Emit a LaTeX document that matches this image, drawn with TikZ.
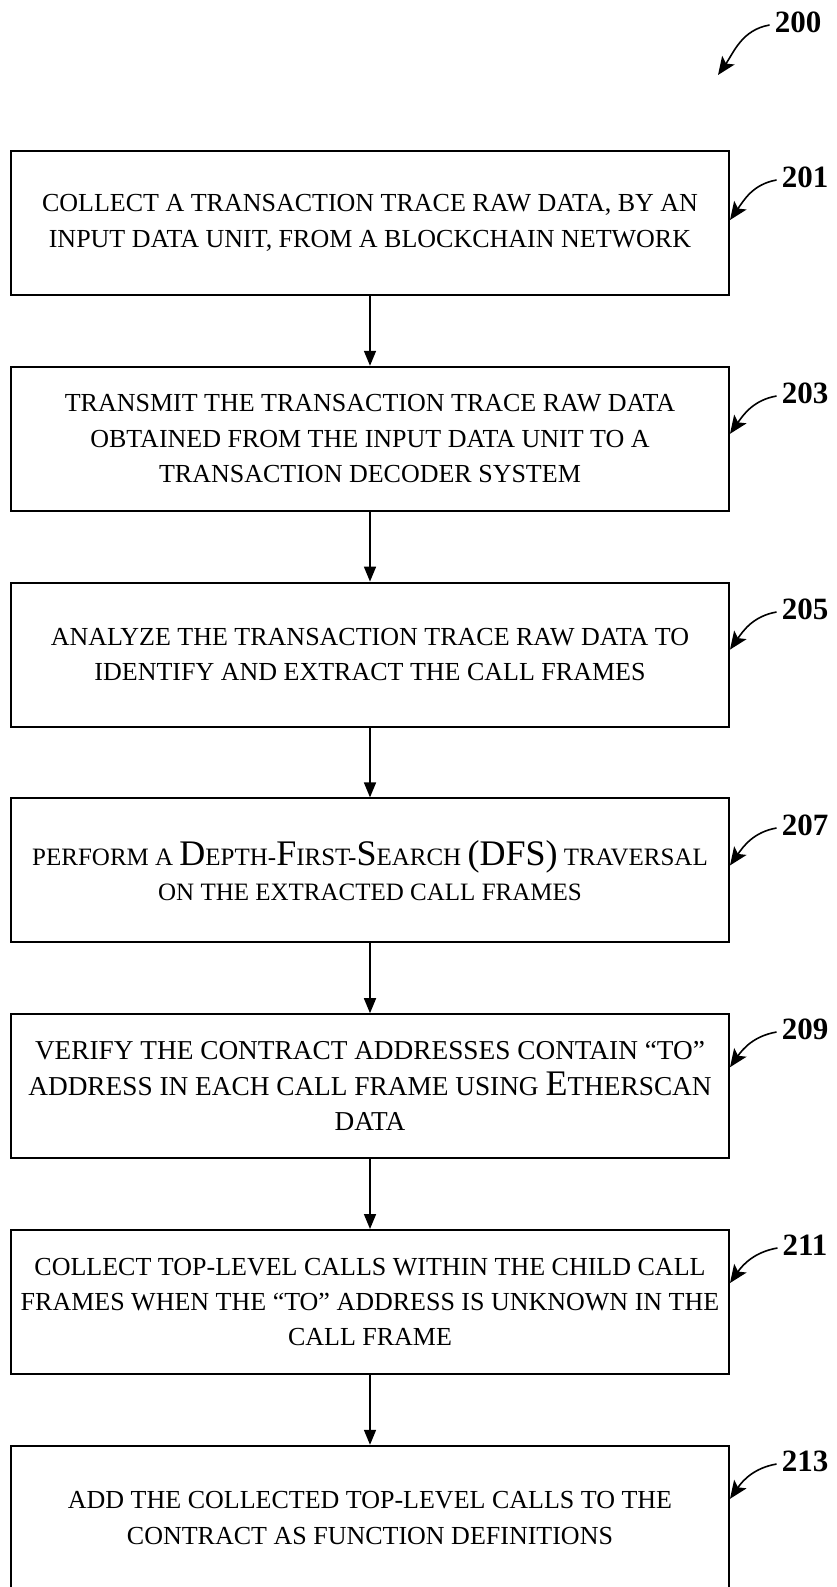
\documentclass[tikz,border=0pt]{standalone}
\usepackage{fontspec}
\setmainfont{Liberation Serif}
\usetikzlibrary{arrows.meta,calc}
\newcommand{\bigcapital}[1]{{\fontsize{36}{35.4}\selectfont #1}}
\newcommand{\bigcapitalE}[1]{{\fontsize{36}{36}\selectfont #1}}
\begin{document}
\begin{tikzpicture}[x=1pt,y=-1pt,
  stepbox/.style={draw, line width=2pt, minimum width=718pt, minimum height=144pt,
    inner sep=0pt, align=center, font=\fontsize{26}{35.4}\selectfont},
  flow/.style={line width=1.6pt, -{Triangle[length=15pt,width=12pt]}},
  lab/.style={font=\bfseries\fontsize{31}{31}\selectfont, inner sep=0pt},
  callout/.style={line width=1.6pt, -{Stealth[length=18pt,width=15pt,inset=4pt]}}]
\useasboundingbox (0,0) rectangle (837,1587);

\node[stepbox] (b1) at (370,223.0) {COLLECT A TRANSACTION TRACE RAW DATA, BY AN\\INPUT DATA UNIT, FROM A BLOCKCHAIN NETWORK};
\node[stepbox] (b2) at (370,438.8) {TRANSMIT THE TRANSACTION TRACE RAW DATA\\OBTAINED FROM THE INPUT DATA UNIT TO A\\TRANSACTION DECODER SYSTEM};
\node[stepbox] (b3) at (370,654.6) {ANALYZE THE TRANSACTION TRACE RAW DATA TO\\IDENTIFY AND EXTRACT THE CALL FRAMES};
\node[stepbox, font=\fontsize{25}{35.4}\selectfont] (b4) at (370,870.4) {PERFORM A \bigcapital{D}EPTH-\bigcapital{F}IRST-\bigcapital{S}EARCH \bigcapital{(DFS)} TRAVERSAL\\ON THE EXTRACTED CALL FRAMES};
\node[stepbox, font=\fontsize{27.3}{35.4}\selectfont] (b5) at (370,1086.2) {VERIFY THE CONTRACT ADDRESSES CONTAIN “TO”\\ADDRESS IN EACH CALL FRAME USING \bigcapitalE{E}THERSCAN\\DATA};
\node[stepbox] (b6) at (370,1302.0) {COLLECT TOP-LEVEL CALLS WITHIN THE CHILD CALL\\FRAMES WHEN THE “TO” ADDRESS IS UNKNOWN IN THE\\CALL FRAME};
\node[stepbox] (b7) at (370,1517.8) {ADD THE COLLECTED TOP-LEVEL CALLS TO THE\\CONTRACT AS FUNCTION DEFINITIONS};

\foreach \a/\b in {b1/b2,b2/b3,b3/b4,b4/b5,b5/b6,b6/b7}
  \draw[flow] (\a.south) -- (\b.north);

\node[lab] (l200) at (798,22) {200};
\coordinate (c200) at (718,75);
\draw[callout] ([xshift=-5pt,yshift=-3pt]l200.west) to[out=190,in=55] (c200);

\node[lab] (l201) at (805,177) {201};
\node[lab] (l203) at (805,393) {203};
\node[lab] (l205) at (805,609) {205};
\node[lab] (l207) at (805,825) {207};
\node[lab] (l209) at (805,1029) {209};
\node[lab] (l211) at (805,1245) {211};
\node[lab] (l213) at (805,1461) {213};

\foreach \l/\b/\d in {l201/b1/70,l203/b2/68,l205/b3/68,l207/b4/68,l209/b5/54,l211/b6/54,l213/b7/54}
  \draw[callout] ([xshift=-5pt,yshift=-3pt]\l.west) to[out=190,in=55] ([yshift=-\d pt]\b.north east);
\end{tikzpicture}
\end{document}
